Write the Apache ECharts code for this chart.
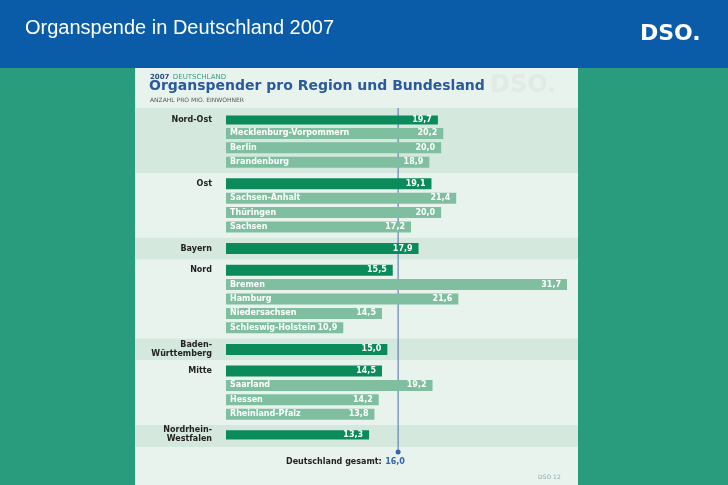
<!DOCTYPE html><html><head><meta charset="utf-8">
<script src="https://cdn.jsdelivr.net/npm/echarts@6/dist/echarts.min.js"></script>
<style>html,body{margin:0;padding:0;background:#2a9c7e}#c{width:728px;height:485px}</style></head><body><div id="c"></div>
<script>
const groups = ["Nord-Ost","Ost","Bayern","Nord","Baden-\nWürttemberg","Mitte","Nordrhein-\nWestfalen"];
const groupValues = [19.7,19.1,17.9,15.5,15.0,14.5,13.3];
const states = [
  ["Mecklenburg-Vorpommern","Berlin","Brandenburg"],
  ["Sachsen-Anhalt","Thüringen","Sachsen"],
  [],
  ["Bremen","Hamburg","Niedersachsen","Schleswig-Holstein"],
  [],
  ["Saarland","Hessen","Rheinland-Pfalz"],
  []
];
const stateValues = [
  [20.2,20.0,18.9],
  [21.4,20.0,17.2],
  [],
  [31.7,21.6,14.5,10.9],
  [],
  [19.2,14.2,13.8],
  []
];
const national = 16.0;

const cats=[], data=[], groupRanges=[];
let k=0;
groups.forEach((g,i)=>{
  if(i>0){cats.push('_s'+(k++));data.push(null);cats.push('_s'+(k++));data.push(null);}
  const start=cats.length;
  cats.push('G'+i);data.push({value:groupValues[i],kind:'g',name:g});
  states[i].forEach((s,j)=>{
    cats.push('_s'+(k++));data.push(null);
    cats.push('S'+i+'_'+j);data.push({value:stateValues[i][j],kind:'s',name:s});
  });
  groupRanges.push([start,cats.length-1]);
});
const fmt=v=>v.toFixed(1).replace('.',',');
const dark='#0b8a5a', light='#7fbf9f';
const chart=echarts.init(document.getElementById('c'));
chart.setOption({
  animation:false,
  backgroundColor:'#2a9c7e',
  grid:{left:226,width:341,top:115.4,height:324},
  xAxis:{type:'value',min:0,max:31.7,show:false},
  yAxis:{type:'category',data:cats,inverse:true,show:false},
  series:[{
    type:'bar',barWidth:11,
    data:data.map(d=>d?{value:d.value,itemStyle:{color:d.kind==='g'?dark:light},
      label:{show:true,position:'insideRight',formatter:fmt(d.value),color:'#fff',fontWeight:'bold',fontSize:8,fontFamily:'DejaVu Sans',distance:6}}:null),
    z:5
  },{
    type:'bar',barWidth:11,barGap:'-100%',
    data:data.map(d=>d?{value:d.value,itemStyle:{color:'transparent'},
      label:d.kind==='s'?{show:true,position:'insideLeft',formatter:d.name,color:'#fff',fontWeight:'bold',fontSize:8,fontFamily:'DejaVu Sans',distance:4}:
      {show:true,position:'left',formatter:d.name,color:'#222',fontWeight:'bold',fontSize:8,fontFamily:'DejaVu Sans',distance:14,align:'right',lineHeight:9}}:null),
    z:6
  }]
});
const g=[];
g.push({type:'rect',shape:{x:0,y:0,width:728,height:68},style:{fill:'#0a5ca8'}});
g.push({type:'text',left:25,top:18,style:{text:'Organspende in Deutschland 2007',fill:'#fff',font:'20px Liberation Sans, Arial'}});
g.push({type:'text',left:640,top:23,style:{text:'DSO.',fill:'#fff',font:'bold 22px DejaVu Sans'}});
g.push({type:'rect',shape:{x:135,y:68,width:443,height:417},style:{fill:'#e9f3ee'},z:-10});
groupRanges.forEach((r,i)=>{
  const y0=chart.convertToPixel({yAxisIndex:0},cats[r[0]])-10.8;
  const y1=chart.convertToPixel({yAxisIndex:0},cats[r[1]])+10.8;
  const top=i===0?108:y0, bot=i===groups.length-1?447:y1;
  g.push({type:'rect',shape:{x:135,y:top,width:443,height:bot-top},style:{fill:i%2===0?'#d5e8de':'#e9f3ee'},z:-9});
});
g.push({type:'text',left:490,top:74,style:{text:'DSO.',fill:'#e0ebe5',font:'bold 24px DejaVu Sans'},z:-8});
g.push({type:'text',left:150,top:71,style:{rich:{a:{fill:'#2a4d80',font:'bold 7px DejaVu Sans'},b:{fill:'#3a9a88',font:'7px DejaVu Sans'}},text:'{a|2007} {b|DEUTSCHLAND}'}});
g.push({type:'text',left:149,top:79,style:{text:'Organspender pro Region und Bundesland',fill:'#2a5a9a',font:'bold 14px DejaVu Sans'}});
g.push({type:'text',left:150,top:97,style:{text:'ANZAHL PRO MIO. EINWOHNER',fill:'#555',font:'6px DejaVu Sans'}});
const xl=chart.convertToPixel({xAxisIndex:0},national);
g.push({type:'line',shape:{x1:xl,y1:108,x2:xl,y2:451},style:{stroke:'#4a6fa8',lineWidth:1},z:1});
g.push({type:'circle',shape:{cx:xl,cy:452,r:2.5},style:{fill:'#3a64a8'}});
g.push({type:'text',left:286,top:456,style:{rich:{a:{fill:'#222',font:'bold 8px DejaVu Sans'},b:{fill:'#3a64a8',font:'bold 8px DejaVu Sans'}},text:'{a|Deutschland gesamt:} {b|'+fmt(national)+'}'}});
g.push({type:'text',left:538,top:474,style:{text:'DSO 12',fill:'#8aa',font:'6px DejaVu Sans'}});
chart.setOption({graphic:g});
</script></body></html>
